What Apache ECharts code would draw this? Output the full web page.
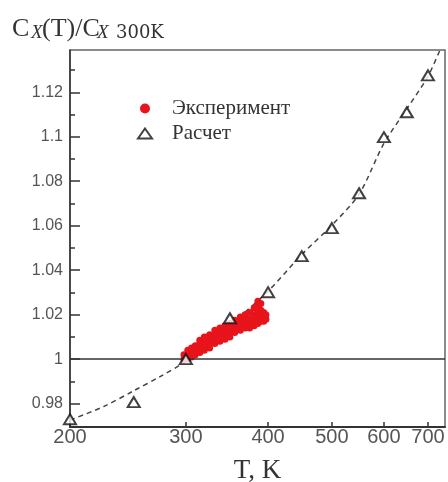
<!DOCTYPE html>
<html>
<head>
<meta charset="utf-8">
<script src="https://cdn.jsdelivr.net/npm/echarts@6/dist/echarts.min.js"></script>
<style>html,body{margin:0;padding:0;background:#fff}#c{width:448px;height:482px}</style>
</head>
<body>
<div id="c"></div>
<script>
// Calculated points (Расчет)
const calcT = [200, 250, 300, 350, 400, 450, 500, 550, 600, 650, 700];
const calcC = [0.973, 0.9807, 1.0, 1.0184, 1.0301, 1.0463, 1.0589, 1.0746, 1.0998, 1.111, 1.1276];
// Dashed fit curve
const fitT = [200, 225, 250, 275, 300, 350, 400, 450, 500, 550, 600, 650, 700, 730, 745];
const fitC = [0.9726, 0.9787, 0.9858, 0.9924, 0.9991, 1.0153, 1.0306, 1.047, 1.0602, 1.0742, 1.097, 1.1125, 1.1272, 1.1389, 1.1443];
// Experiment (Эксперимент) cloud: temperatures and values per temperature
const expT = [298, 302, 306, 310, 315, 320, 326, 332, 338, 344, 350, 356, 363, 369, 375, 381, 386, 390, 394, 397];
const expC = [
  [1.000, 1.002],
  [1.000, 1.002, 1.004],
  [1.001, 1.003, 1.005],
  [1.002, 1.004, 1.006],
  [1.003, 1.005, 1.007, 1.0085],
  [1.004, 1.006, 1.008, 1.010],
  [1.005, 1.007, 1.009, 1.011],
  [1.007, 1.009, 1.011, 1.013],
  [1.008, 1.010, 1.012, 1.014],
  [1.009, 1.011, 1.013, 1.015],
  [1.010, 1.012, 1.014, 1.016],
  [1.012, 1.014, 1.016, 1.0175],
  [1.013, 1.015, 1.017, 1.019],
  [1.014, 1.016, 1.018, 1.020],
  [1.014, 1.016, 1.018, 1.021],
  [1.015, 1.017, 1.020, 1.023],
  [1.016, 1.018, 1.021, 1.024, 1.026],
  [1.017, 1.019, 1.022, 1.025],
  [1.017, 1.019, 1.021],
  [1.018, 1.020]
];
const xTicks = [200, 300, 400, 500, 600, 700];
const yTicks = [0.98, 1, 1.02, 1.04, 1.06, 1.08, 1.1, 1.12];
const yMinorTicks = [0.99, 1.01, 1.03, 1.05, 1.07, 1.09, 1.11, 1.13];
const refLine = 1;
const names = ['Эксперимент', 'Расчет'];

const expData = [];
expT.forEach((t, i) => expC[i].forEach(v => expData.push([t, v])));
const calcData = calcT.map((t, i) => [t, calcC[i]]);
const fitData = fitT.map((t, i) => [t, fitC[i]]);

const chart = echarts.init(document.getElementById('c'), null, {renderer: 'canvas'});
const serif = 'Liberation Serif';
const sans = 'Liberation Sans';
chart.setOption({
  animation: false,
  backgroundColor: '#fff',
  grid: {left: 70, right: 3, top: 50, bottom: 55, show: true, borderColor: '#666', borderWidth: 1.5, backgroundColor: 'transparent', containLabel: false, outerBoundsMode: 'none'},
  legend: {
    orient: 'vertical', left: 132, top: 93, itemWidth: 14, itemHeight: 10, itemGap: 4,
    symbolKeepAspect: true,
    data: names,
    textStyle: {fontFamily: serif, fontSize: 21, color: '#333', lineHeight: 20, padding: [0, 0, 0, 15]}
  },
  graphic: [
    {type: 'text', style: {text: 'C', x: 12, y: 29, font: '26px "Liberation Serif"', fill: '#333', verticalAlign: 'middle', textVerticalAlign: 'middle'}},
    {type: 'text', style: {text: 'X', x: 31, y: 33, font: 'italic 19px "Liberation Serif"', fill: '#333', verticalAlign: 'middle', textVerticalAlign: 'middle'}},
    {type: 'text', style: {text: '(T)/C', x: 42, y: 29, font: '26px "Liberation Serif"', fill: '#333', verticalAlign: 'middle', textVerticalAlign: 'middle'}},
    {type: 'text', style: {text: 'X', x: 97, y: 33, font: 'italic 19px "Liberation Serif"', fill: '#333', verticalAlign: 'middle', textVerticalAlign: 'middle'}},
    {type: 'text', style: {text: '300K', x: 116, y: 33, font: '18px "DejaVu Serif"', fill: '#333', verticalAlign: 'middle', textVerticalAlign: 'middle'}}
  ],
  xAxis: {
    type: 'log', logBase: 10, min: 200, max: 743,
    name: 'T, K', nameLocation: 'middle', nameGap: 30,
    nameTextStyle: {fontFamily: serif, fontSize: 27, color: '#333'},
    axisLine: {show: true, lineStyle: {color: '#333', width: 2}},
    axisTick: {show: true, inside: true, length: 5, customValues: xTicks, lineStyle: {color: '#333', width: 1.5}},
    axisLabel: {customValues: xTicks, margin: 0, fontFamily: sans, fontSize: 20, color: '#555'},
    splitLine: {show: false},
    minorTick: {show: false}
  },
  yAxis: [{
    type: 'value', min: 0.9695, max: 1.139,
    axisLine: {show: true, lineStyle: {color: '#333', width: 1.5}},
    axisTick: {show: true, inside: true, length: 10, customValues: yTicks, lineStyle: {color: '#333', width: 1.5}},
    axisLabel: {customValues: yTicks, margin: 7, fontFamily: sans, fontSize: 16, color: '#555'},
    splitLine: {show: false}
  }, {
    type: 'value', min: 0.9695, max: 1.139, position: 'left',
    axisLine: {show: false},
    axisTick: {show: true, inside: true, length: 5, customValues: yMinorTicks, lineStyle: {color: '#333', width: 1.5}},
    axisLabel: {show: false},
    splitLine: {show: false}
  }],
  series: [
    {
      type: 'line', data: fitData, smooth: 0.3, showSymbol: false, symbol: 'none', silent: true,
      lineStyle: {color: '#444', width: 1.5, type: [5, 4]}, z: 3,
      markLine: {
        silent: true, symbol: 'none', label: {show: false},
        lineStyle: {color: '#333', width: 1.5, type: 'solid'},
        data: [{yAxis: refLine}]
      }
    },
    {
      name: names[0], type: 'scatter', data: expData, symbol: 'circle', symbolSize: 7,
      itemStyle: {color: '#e8141b', opacity: 1}, z: 4
    },
    {
      name: names[1], type: 'scatter', data: calcData, symbol: 'triangle', symbolSize: [12, 10],
      itemStyle: {color: '#fff', borderColor: '#111', borderWidth: 2}, z: 5
    }
  ]
});
</script>
</body>
</html>
